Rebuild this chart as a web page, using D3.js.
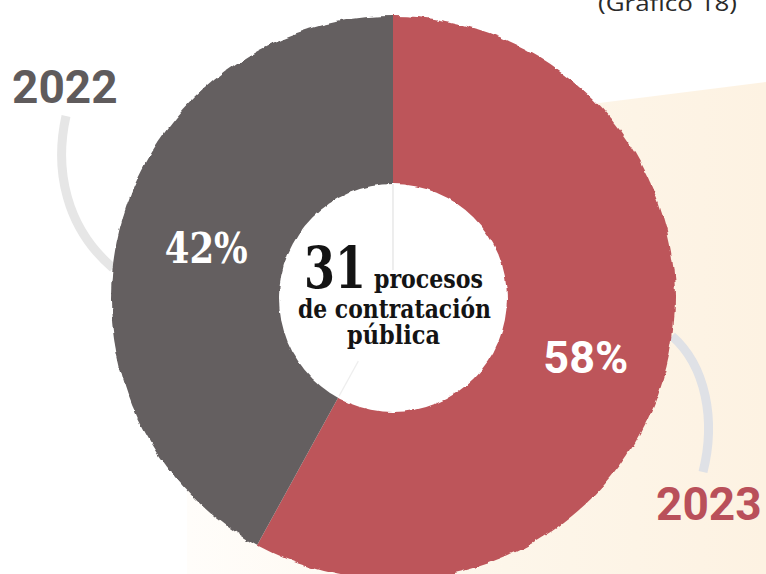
<!DOCTYPE html>
<html>
<head>
<meta charset="utf-8">
<script src="https://cdn.jsdelivr.net/npm/d3@7"></script>
<style>
  html, body { margin: 0; padding: 0; background: #ffffff; }
  svg { display: block; }
</style>
</head>
<body>
<svg id="chart" width="766" height="574"></svg>
<script>
// Share of public procurement processes by year
const years = ["2023", "2022"];
const shares = [58, 42];
const shareLabels = ["58%", "42%"];
const totalProcesses = 31;
const centerLines = ["procesos", "de contratación", "pública"];
const sourceNote = "(Gráfico 18)";

const W = 766, H = 574;
const cx = 393, cy = 298;
const outerR = 282, innerR = 114;
const sliceColor = d3.scaleOrdinal().domain(years).range(["#bd555a", "#645f60"]);
const yearColor = d3.scaleOrdinal().domain(years).range(["#b9505a", "#5f5b5c"]);

const svg = d3.select("#chart");
const defs = svg.append("defs");

// cream backdrop, fading in from the left
const grad = defs.append("linearGradient").attr("id", "cream")
  .attr("x1", "0").attr("y1", "0").attr("x2", "1").attr("y2", "0");
grad.append("stop").attr("offset", "0").attr("stop-color", "#fffdfa");
grad.append("stop").attr("offset", "0.55").attr("stop-color", "#fdf6ea");
grad.append("stop").attr("offset", "1").attr("stop-color", "#fdf2e2");

// torn-paper edge
const rough = defs.append("filter").attr("id", "rough")
  .attr("x", "-10%").attr("y", "-10%").attr("width", "120%").attr("height", "120%");
rough.append("feTurbulence").attr("type", "fractalNoise")
  .attr("baseFrequency", "0.06").attr("numOctaves", 3).attr("seed", 4).attr("result", "noise");
rough.append("feDisplacementMap").attr("in", "SourceGraphic").attr("in2", "noise")
  .attr("scale", 6).attr("xChannelSelector", "R").attr("yChannelSelector", "G");

const roughSoft = defs.append("filter").attr("id", "roughSoft")
  .attr("x", "-10%").attr("y", "-10%").attr("width", "120%").attr("height", "120%");
roughSoft.append("feTurbulence").attr("type", "fractalNoise")
  .attr("baseFrequency", "0.1").attr("numOctaves", 2).attr("seed", 9).attr("result", "noise");
roughSoft.append("feDisplacementMap").attr("in", "SourceGraphic").attr("in2", "noise")
  .attr("scale", 3).attr("xChannelSelector", "R").attr("yChannelSelector", "G");

const mask = defs.append("mask").attr("id", "ringMask")
  .attr("maskUnits", "userSpaceOnUse").attr("x", 0).attr("y", 0).attr("width", W).attr("height", H);
mask.append("circle").attr("cx", cx).attr("cy", cy).attr("r", outerR)
  .attr("fill", "#fff").attr("filter", "url(#rough)");

svg.append("polygon")
  .attr("points", "187,155 766,82 766,574 187,574")
  .attr("fill", "url(#cream)");

// connector arcs from the year labels to the ring
svg.append("path")
  .attr("d", "M66,116 C54,170 66,228 113,268")
  .attr("fill", "none").attr("stroke", "#e6e6e6").attr("stroke-width", 9)
  .attr("stroke-linecap", "butt");
svg.append("path")
  .attr("d", "M672,336 C706,366 716,420 703,472")
  .attr("fill", "none").attr("stroke", "#dfe1e6").attr("stroke-width", 9)
  .attr("stroke-linecap", "butt");

// ring (mask lives in page coordinates, slices are drawn around the center)
const pie = d3.pie().sort(null).value(d => d.value);
const arcs = pie(years.map((y, i) => ({ year: y, value: shares[i], label: shareLabels[i] })));
const arc = d3.arc().innerRadius(innerR - 20).outerRadius(outerR + 20);
const labelArc = d3.arc().innerRadius(innerR).outerRadius(outerR);

const ring = svg.append("g").attr("mask", "url(#ringMask)")
  .append("g").attr("transform", `translate(${cx},${cy})`);
ring.selectAll("path").data(arcs).join("path")
  .attr("d", arc)
  .attr("fill", d => sliceColor(d.data.year));

// white center disc
const center = svg.append("g").attr("transform", `translate(${cx},${cy})`);
center.append("circle").attr("r", innerR).attr("fill", "#ffffff").attr("filter", "url(#roughSoft)");

// faint guide lines inside the disc
const a0 = arcs[0].endAngle;
center.append("line")
  .attr("x1", 0).attr("y1", -innerR).attr("x2", 0).attr("y2", -28)
  .attr("stroke", "#e2e2e2").attr("stroke-width", 1.2);
center.append("line")
  .attr("x1", Math.sin(a0) * (innerR - 2)).attr("y1", -Math.cos(a0) * (innerR - 2))
  .attr("x2", Math.sin(a0) * 72).attr("y2", -Math.cos(a0) * 72)
  .attr("stroke", "#eeeeee").attr("stroke-width", 1.2);

// percentage labels
svg.append("g").attr("transform", `translate(${cx},${cy})`)
  .selectAll("text").data(arcs).join("text")
  .attr("x", d => labelArc.centroid(d)[0] + (d.data.year === "2023" ? 1 : 5))
  .attr("y", d => labelArc.centroid(d)[1] + (d.data.year === "2023" ? 26 : 14))
  .attr("text-anchor", "middle")
  .attr("fill", "#ffffff")
  .attr("font-weight", 700)
  .attr("font-size", d => d.data.year === "2023" ? 45 : 42)
  .attr("font-family", d => d.data.year === "2023" ? "Roboto, 'Liberation Sans', sans-serif" : "'DejaVu Serif', serif")
  .attr("textLength", d => d.data.year === "2023" ? null : 83)
  .attr("lengthAdjust", "spacingAndGlyphs")
  .text(d => d.data.label);

// year labels
svg.append("text")
  .attr("x", 12).attr("y", 103)
  .attr("font-family", "Roboto, 'Liberation Sans', sans-serif")
  .attr("font-weight", 700).attr("font-size", 46)
  .attr("fill", yearColor("2022"))
  .text(years[1]);
svg.append("text")
  .attr("x", 656).attr("y", 520)
  .attr("font-family", "Roboto, 'Liberation Sans', sans-serif")
  .attr("font-weight", 700).attr("font-size", 46)
  .attr("fill", yearColor("2023"))
  .text(years[0]);

// center caption
const slab = "'DejaVu Serif', 'Liberation Serif', serif";
svg.append("text")
  .attr("x", 304).attr("y", 288)
  .attr("font-family", slab).attr("font-weight", 700).attr("font-size", 58)
  .attr("fill", "#141414")
  .attr("textLength", 62).attr("lengthAdjust", "spacingAndGlyphs")
  .text(totalProcesses);
svg.append("text")
  .attr("x", 374).attr("y", 288)
  .attr("font-family", slab).attr("font-weight", 700).attr("font-size", 26)
  .attr("fill", "#141414")
  .attr("textLength", 109).attr("lengthAdjust", "spacingAndGlyphs")
  .text(centerLines[0]);
svg.append("text")
  .attr("x", 298).attr("y", 318)
  .attr("font-family", slab).attr("font-weight", 700).attr("font-size", 26)
  .attr("fill", "#141414")
  .attr("textLength", 193).attr("lengthAdjust", "spacingAndGlyphs")
  .text(centerLines[1]);
svg.append("text")
  .attr("x", 347).attr("y", 344)
  .attr("font-family", slab).attr("font-weight", 700).attr("font-size", 26)
  .attr("fill", "#141414")
  .attr("textLength", 93).attr("lengthAdjust", "spacingAndGlyphs")
  .text(centerLines[2]);

// source note, clipped by the top edge
svg.append("text")
  .attr("x", 598).attr("y", 11)
  .attr("font-family", "'Open Sans', Lato, sans-serif")
  .attr("font-size", 22).attr("fill", "#2a2a2a")
  .attr("textLength", 139).attr("lengthAdjust", "spacingAndGlyphs")
  .text(sourceNote);
</script>
</body>
</html>
